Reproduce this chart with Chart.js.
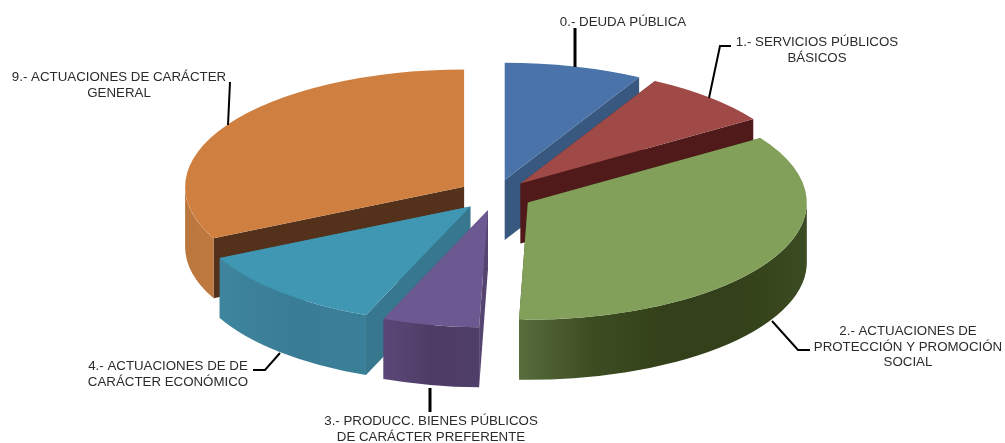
<!DOCTYPE html>
<html>
<head>
<meta charset="utf-8">
<title>Gasto por áreas</title>
<script src="https://cdn.jsdelivr.net/npm/chart.js@4"></script>
<style>
  html, body { margin: 0; padding: 0; background: #fff; }
  #wrap { width: 1005px; height: 443px; }
</style>
</head>
<body>
<div id="wrap"><canvas id="pie" width="1005" height="443"></canvas></div>
<script>
// Data
const categories = [
  ['0.- DEUDA PÚBLICA'],
  ['1.- SERVICIOS PÚBLICOS', 'BÁSICOS'],
  ['2.- ACTUACIONES DE', 'PROTECCIÓN Y PROMOCIÓN', 'SOCIAL'],
  ['3.- PRODUCC. BIENES PÚBLICOS', 'DE CARÁCTER PREFERENTE'],
  ['4.- ACTUACIONES DE DE', 'CARÁCTER ECONÓMICO'],
  ['9.- ACTUACIONES DE CARÁCTER', 'GENERAL'],
];
const values = [8.0, 7.7, 34.8, 5.6, 11.65, 32.25];

// Colours
const topColors = ['#4a73a9', '#a04a48', '#82a05a', '#6d5992', '#3f97b3', '#cf8041'];
const faceColors = ['#38587f', '#4f1a19', '#3a4a22', '#55446f', '#37788f', '#54311a'];
const wallColors = [
  ['#38587f', '#38587f'],
  ['#4f1a19', '#4f1a19'],
  ['#586c3c', '#3d4d22', '#334019', '#334019', '#3b4b22'],
  ['#5b4878', '#4e3c66', '#4f3e69'],
  ['#3f859e', '#397c95', '#3a7f98'],
  ['#bb763e', '#bf7940'],
];

// Pie look
const tilt = 0.42;
const depth = 60;
const explode = 37;
const drawOrder = [0, 1, 5, 2, 4, 3]; // back to front

// Label placement: centre x, first baseline y, leader line
const labelPlaces = [
  { x: 623, y: 26, line: [[575, 28], [575, 67]], width: 3 },
  { x: 817, y: 46, line: [[731, 46], [720, 46], [709, 98]], width: 2 },
  { x: 908, y: 335, line: [[772, 321], [798, 350], [810, 350]], width: 2 },
  { x: 431, y: 425, line: [[430, 388], [430, 412]], width: 3 },
  { x: 168, y: 370, line: [[280, 353], [265, 370], [253, 370]], width: 2 },
  { x: 119, y: 81, line: [[230, 82], [228, 125]], width: 2 },
];

// Draws the slices tilted, with their thickness, and skips Chart.js's flat pass
const tiltedPie = {
  id: 'tiltedPie',
  beforeDatasetsDraw(chart) {
    const ctx = chart.ctx;
    const arcs = chart.getDatasetMeta(0).data;
    drawOrder.forEach((i) => {
      const el = arcs[i];
      const mid = (el.startAngle + el.endAngle) / 2;
      const ax = el.x + Math.cos(mid) * explode;
      const ay = el.y + Math.sin(mid) * explode * tilt;
      const r = el.outerRadius;

      // cut faces
      ctx.fillStyle = faceColors[i];
      [el.startAngle, el.endAngle].forEach((a) => {
        const ex = ax + Math.cos(a) * r;
        const ey = ay + Math.sin(a) * r * tilt;
        ctx.beginPath();
        ctx.moveTo(ax, ay);
        ctx.lineTo(ex, ey);
        ctx.lineTo(ex, ey + depth);
        ctx.lineTo(ax, ay + depth);
        ctx.closePath();
        ctx.fill();
      });

      // outer wall, only the part facing us
      const a0 = Math.max(el.startAngle, 0);
      const a1 = Math.min(el.endAngle, Math.PI);
      if (a1 > a0) {
        const x0 = ax + Math.cos(a0) * r;
        const x1 = ax + Math.cos(a1) * r;
        const grad = ctx.createLinearGradient(Math.min(x0, x1), 0, Math.max(x0, x1), 0);
        wallColors[i].forEach((c, n) => grad.addColorStop(n / (wallColors[i].length - 1), c));
        ctx.fillStyle = grad;
        ctx.beginPath();
        ctx.ellipse(ax, ay, r, r * tilt, 0, a0, a1);
        ctx.ellipse(ax, ay + depth, r, r * tilt, 0, a1, a0, true);
        ctx.closePath();
        ctx.fill();
      }

      // top
      ctx.save();
      ctx.translate(ax, ay);
      ctx.scale(1, tilt);
      ctx.translate(-el.x, -el.y);
      el.draw(ctx);
      ctx.restore();
    });
    return false;
  },
  afterDraw(chart) {
    const ctx = chart.ctx;
    ctx.save();
    ctx.strokeStyle = '#000';
    ctx.fillStyle = '#2b2b2b';
    ctx.font = '13.3px "Liberation Sans", Arial, sans-serif';
    ctx.textAlign = 'center';
    categories.forEach((lines, i) => {
      const place = labelPlaces[i];
      ctx.lineWidth = place.width;
      ctx.beginPath();
      place.line.forEach((p, n) => (n ? ctx.lineTo(p[0], p[1]) : ctx.moveTo(p[0], p[1])));
      ctx.stroke();
      lines.forEach((text, n) => ctx.fillText(text, place.x, place.y + n * 15.7));
    });
    ctx.restore();
  },
};

new Chart(document.getElementById('pie'), {
  type: 'pie',
  data: {
    labels: categories.map((lines) => lines.join(' ')),
    datasets: [
      {
        data: values,
        backgroundColor: topColors,
        borderWidth: 0,
        offset: 0,
      },
    ],
  },
  options: {
    responsive: false,
    animation: false,
    radius: 279,
    layout: { padding: { right: 14, bottom: 53 } },
    plugins: {
      legend: { display: false },
      tooltip: { enabled: false },
    },
  },
  plugins: [tiltedPie],
});
</script>
</body>
</html>
